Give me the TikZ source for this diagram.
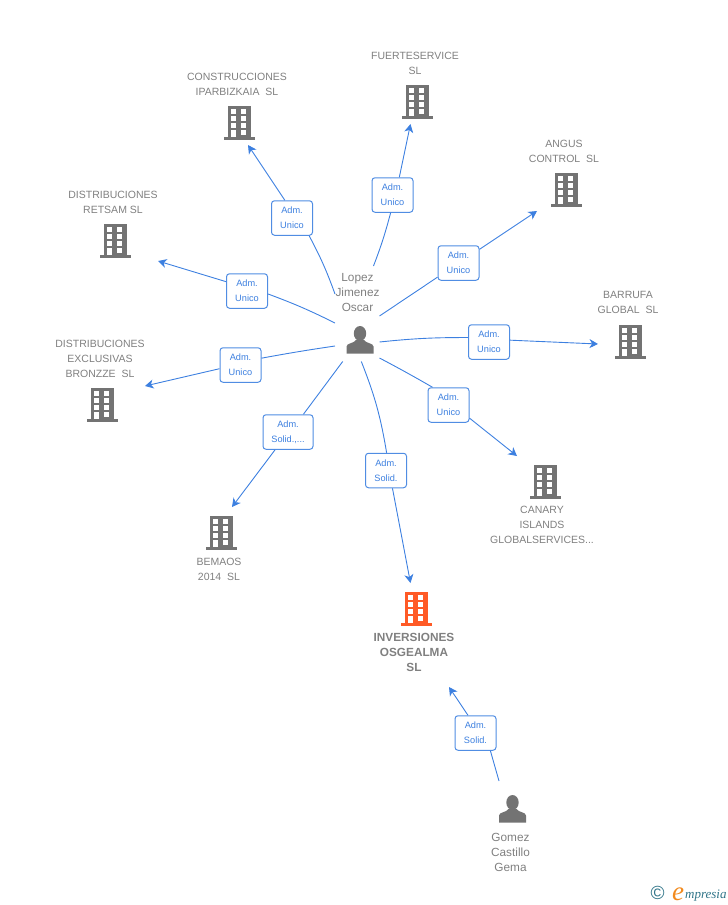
\documentclass[tikz,border=0pt]{standalone}
\usepackage{fontspec}
\setmainfont{Liberation Sans}
\newfontfamily\logofont{Liberation Serif}
\usetikzlibrary{arrows.meta}

\definecolor{icongray}{HTML}{737373}
\definecolor{textgray}{HTML}{808080}
\definecolor{linkblue}{HTML}{3D80E0}
\definecolor{mainorange}{HTML}{FF5A26}
\definecolor{logoteal}{HTML}{2F7488}
\definecolor{logoorange}{HTML}{F28A1E}

\tikzstyle{caption}=[text=textgray, align=center, inner sep=0pt, font=\fontsize{10.5}{15}\selectfont]
\tikzstyle{role}=[draw=linkblue!90, fill=white, text=linkblue, rounded corners=3pt, line width=1pt, align=center,
	inner sep=0pt, minimum height=34.5pt, font=\fontsize{9.2}{15}\selectfont]
\tikzstyle{link}=[draw=linkblue, line width=0.9pt]
\tikzstyle{arrowed}=[-{Stealth[length=8.5pt, width=9pt, inset=2.5pt]}]

\tikzset{
	pics/building/.style={code={
		\fill[#1] (-11,-16) rectangle (11.5,15);
		\fill[#1] (-15.5,15) rectangle (15.5,17.5);
		\foreach \y in {-12.7,-5.7,1.3} {
			\fill[white] (-8,\y) rectangle (-3.2,\y+4.8);
			\fill[white] (2,\y) rectangle (6.8,\y+4.8);
		}
		\fill[white] (-8,8.2) rectangle (-3.2,15);
		\fill[white] (2,8.2) rectangle (6.8,12.8);
	}},
	pics/person/.style={code={
		\fill[icongray] (0,-6.5) ellipse (6.2 and 7.5);
		\fill[icongray] (-13.5,13.5) -- (-13.5,6.5) .. controls (-13.5,3) and (-6,3.5) .. (-4,0)
			-- (4,0) .. controls (6,3.5) and (13.5,3) .. (13.5,6.5) -- (13.5,13.5) -- cycle;
	}}
}

\begin{document}
\begin{tikzpicture}[x=1pt, y=-1pt]
	\useasboundingbox (0,0) rectangle (728,905);

	% companies
	\foreach \pos/\col in {{(417,101)/icongray}, {(239,122)/icongray}, {(566,189)/icongray}, {(115,240)/icongray},
				{(630,341)/icongray}, {(102,404)/icongray}, {(545,481)/icongray}, {(221,532)/icongray},
				{(416,608)/mainorange}}
		\path \pos pic {building=\col};
	\foreach \pos in {(360,340), (512.5,809)}
		\path \pos pic {person};

	% names
	\foreach \pos/\name/\txt in {{(415,63.5)/fuerte/{FUERTESERVICE\\SL}}, {(237,84.5)/construcciones/{CONSTRUCCIONES\\IPARBIZKAIA~~SL}},
				{(564,151.5)/angus/{ANGUS\\CONTROL~~SL}}, {(113,202.5)/retsam/{DISTRIBUCIONES\\RETSAM SL}},
				{(628,302.5)/barrufa/{BARRUFA\\GLOBAL~~SL}}, {(100,359)/bronzze/{DISTRIBUCIONES\\EXCLUSIVAS\\BRONZZE~~SL}},
				{(542,525)/canary/{CANARY\\ISLANDS\\GLOBALSERVICES...}}, {(219,569.5)/bemaos/{BEMAOS\\2014~~SL}}}
		\node[caption] (\name) at \pos {\txt};
	\foreach \pos/\name/\txt in {{(357.5,292)/lopezname/{Lopez\\Jimenez\\Oscar}}, {(510.5,852)/gomezname/{Gomez\\Castillo\\Gema}}}
		\node[caption, font=\fontsize{11.8}{15}\selectfont] (\name) at \pos {\txt};
	\node[caption, font=\fontsize{11.8}{15}\selectfont\bfseries] (inversiones) at (414,652) {INVERSIONES\\OSGEALMA\\SL};

	% roles
	\foreach \pos/\name/\wid/\txt in {{(392.5,195)/rfuerte/41pt/{Adm.\\Unico}}, {(292,218)/rconstrucciones/41pt/{Adm.\\Unico}},
				{(458.5,263)/rangus/41pt/{Adm.\\Unico}}, {(247,291)/rretsam/41pt/{Adm.\\Unico}},
				{(489,342)/rbarrufa/41pt/{Adm.\\Unico}}, {(240.5,365)/rbronzze/41pt/{Adm.\\Unico}},
				{(448.5,405)/rcanary/41pt/{Adm.\\Unico}}, {(288,432)/rbemaos/50pt/{Adm.\\Solid.,...}},
				{(386,470.5)/rinversiones/41pt/{Adm.\\Solid.}}, {(475.5,733)/rgomez/41pt/{Adm.\\Solid.}}}
		\node[role, minimum width=\wid] (\name) at \pos {\txt};

	% free ends of the connectors
	\foreach \pos/\name in {{(373.5,266)/a1}, {(335,294)/a2}, {(379.5,316)/a3}, {(335,323)/a4}, {(379.5,342)/a5},
				{(335,346)/a6}, {(379.5,358)/a7}, {(342.7,361.5)/a8}, {(361.3,361.5)/a9}, {(499,781)/a10},
				{(410.5,124)/b1}, {(248,145)/b2}, {(537,211)/b3}, {(158,261)/b4}, {(598,344)/b5},
				{(145,386)/b6}, {(517,456)/b7}, {(232,507)/b8}, {(410.5,583)/b9}, {(449,687)/b10}}
		\path \pos coordinate (\name);

	% connectors
	\foreach \source/\bnd/\via/\inang/\outang/\dest in {a1/-3/rfuerte/-96/69/b1, a2/-4/rconstrucciones/-46/112/b2, a3/0/rangus/-146/33.7/b3,
				a4/-3/rretsam/-8/156/b4, a5/3/rbarrufa/168/5.5/b5, a6/-1/rbronzze/18/-170.5/b6,
				a7/1/rcanary/132/-32.6/b7, a8/0/rbemaos/49/-126/b8, a9/6/rinversiones/88/-70/b9, a10/0/rgomez/-50/113/b10}
		{
		\path[link] (\source) to[bend left=\bnd] (\via.\inang);
		\path[link, arrowed] (\via.\outang) -- (\dest);
		}

	% logo
	\node[text=logoteal, inner sep=0pt, font=\fontsize{19}{19}\selectfont] (copyr) at (657.5,893) {©};
	\node[text=logoorange, inner sep=0pt, font=\logofont\itshape\fontsize{27}{27}\selectfont] (logoe) at (678,894) {e};
	\node[text=logoteal, inner sep=0pt, anchor=base west, font=\logofont\itshape\fontsize{13}{15}\selectfont] (logotxt) at (685,898) {mpresia};
\end{tikzpicture}
\end{document}
